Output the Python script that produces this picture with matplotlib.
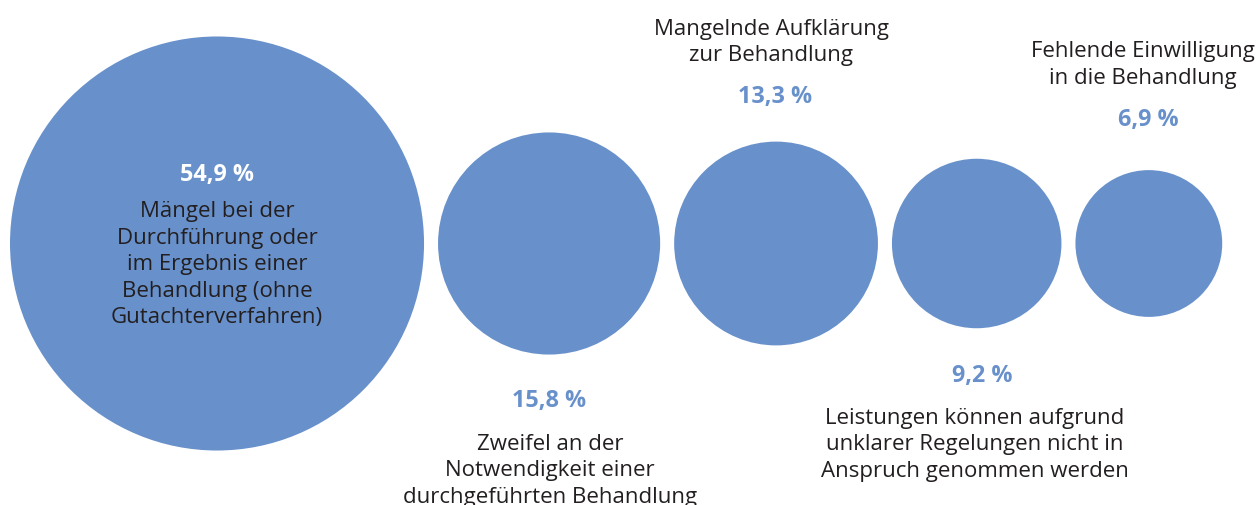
import numpy as np
import matplotlib
matplotlib.use("Agg")
import matplotlib.pyplot as plt
from matplotlib.patches import Circle

# ---- data ----
categories = [
    ["Mängel bei der", "Durchführung oder", "im Ergebnis einer", "Behandlung (ohne", "Gutachterverfahren)"],
    ["Zweifel an der", "Notwendigkeit einer", "durchgeführten Behandlung"],
    ["Mangelnde Aufklärung", "zur Behandlung"],
    ["Leistungen können aufgrund", "unklarer Regelungen nicht in", "Anspruch genommen werden"],
    ["Fehlende Einwilligung", "in die Behandlung"],
]
values = [54.9, 15.8, 13.3, 9.2, 6.9]
value_labels = ["54,9 %", "15,8 %", "13,3 %", "9,2 %", "6,9 %"]

# ---- layout (pixels) ----
W, H = 1259, 506
BLUE = "#6891cb"
DARK = "#231f20"
FONT = "Open Sans"
k = 27.94          # radius scale: r = k*sqrt(value)
gap = 14
left0 = 10
cy = 244.5
layout = [
    dict(pct_y=180.7, lab_y=217.3, lab_dx=0, pct_dx=0, pct_color="white"),
    dict(pct_y=407.3, lab_y=450.0, lab_dx=1, pct_dx=0, pct_color=BLUE),
    dict(pct_y=102.7, lab_y=35.0, lab_dx=-5, pct_dx=-1, pct_color=BLUE),
    dict(pct_y=381.7, lab_y=424.0, lab_dx=-2, pct_dx=6, pct_color=BLUE),
    dict(pct_y=126.0, lab_y=57.3, lab_dx=-6, pct_dx=-1, pct_color=BLUE),
]
step = 26.4

fig = plt.figure(figsize=(W / 100, H / 100), dpi=100)
ax = fig.add_axes([0, 0, 1, 1])
ax.set_xlim(0, W)
ax.set_ylim(H, 0)
ax.axis("off")

left = left0
for lines, v, vl, lay in zip(categories, values, value_labels, layout):
    r = k * np.sqrt(v)
    cx = left + r
    ax.add_patch(Circle((cx, cy), r, facecolor=BLUE, edgecolor="none"))
    ax.text(cx + lay["pct_dx"], lay["pct_y"], vl, ha="center", va="baseline",
            fontsize=16.8, fontweight="bold", color=lay["pct_color"], family=FONT)
    for i, ln in enumerate(lines):
        ax.text(cx + lay["lab_dx"], lay["lab_y"] + i * step, ln, ha="center",
                va="baseline", fontsize=16, color=DARK, family=FONT)
    left = cx + r + gap

fig.savefig("out.png", dpi=100)
